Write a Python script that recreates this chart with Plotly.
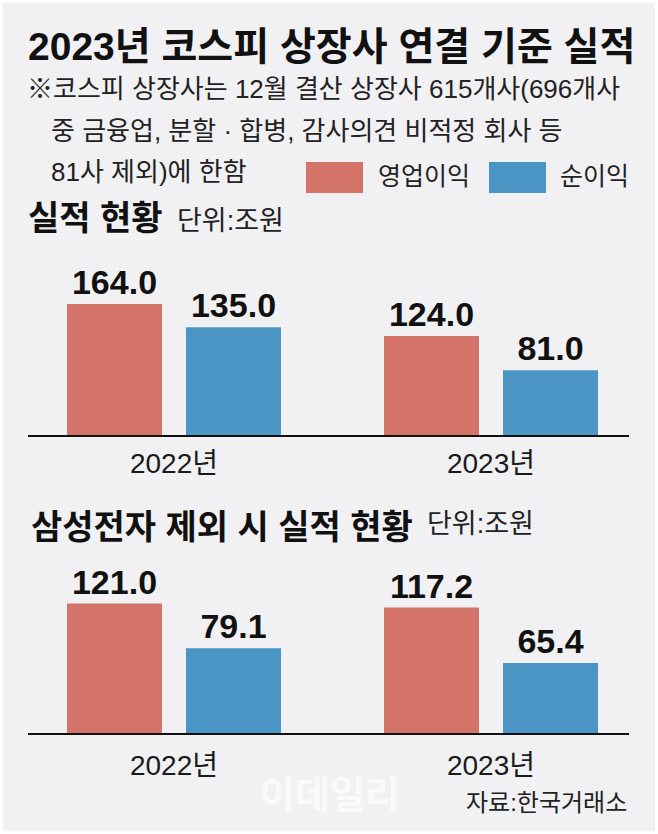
import plotly.graph_objects as go

# ---- data ----
years = ["2022년", "2023년"]
op_profit_all = [164.0, 124.0]      # 영업이익 (전체)
net_profit_all = [135.0, 81.0]      # 순이익 (전체)
op_profit_ex = [121.0, 117.2]       # 영업이익 (삼성전자 제외)
net_profit_ex = [79.1, 65.4]        # 순이익 (삼성전자 제외)
series_names = ["영업이익", "순이익"]

W, H = 658, 834
RED = "#d47468"
BLUE = "#4a95c4"
BG = "#f1f1f3"
NUM_FONT = "Liberation Sans, Arial, Noto Sans CJK KR"
KR_FONT = "Liberation Sans, Noto Sans CJK KR"


def px(x):
    return x / W


def py(y):
    return 1 - y / H


fig = go.Figure()

for vals, name, color in [(op_profit_all, series_names[0], RED), (net_profit_all, series_names[1], BLUE)]:
    fig.add_trace(go.Bar(
        x=years, y=vals, name=name, marker=dict(color=color, line=dict(width=0)),
        texttemplate="%{y:.1f}", textposition="outside", cliponaxis=False,
        textfont=dict(family=NUM_FONT, size=34, color="#111111", weight="bold"),
        xaxis="x", yaxis="y", showlegend=False, offsetgroup=name, hoverinfo="skip",
    ))
for vals, name, color in [(op_profit_ex, series_names[0], RED), (net_profit_ex, series_names[1], BLUE)]:
    fig.add_trace(go.Bar(
        x=years, y=vals, name=name, marker=dict(color=color, line=dict(width=0)),
        texttemplate="%{y:.1f}", textposition="outside", cliponaxis=False,
        textfont=dict(family=NUM_FONT, size=34, color="#111111", weight="bold"),
        xaxis="x2", yaxis="y2", showlegend=False, offsetgroup=name, hoverinfo="skip",
    ))

xdom = [px(28), px(629)]
xrange = [-0.4606, 1.4353]
xcommon = dict(
    type="category", range=xrange, domain=xdom, showline=True, linecolor="#111111",
    linewidth=2, showgrid=False, zeroline=False, ticks="",
    tickfont=dict(family=KR_FONT, size=28, color="#1a1a1a"), fixedrange=True,
)
ycommon = dict(showgrid=False, zeroline=False, showticklabels=False, showline=False, fixedrange=True)

fig.update_layout(
    width=W, height=H, margin=dict(l=0, r=0, t=0, b=0),
    paper_bgcolor="#ffffff", plot_bgcolor="rgba(0,0,0,0)",
    barmode="group", bargap=0.2492, bargroupgap=0.2017,
    showlegend=False,
    xaxis=dict(**xcommon, anchor="y", ticklabelstandoff=2),
    yaxis=dict(**ycommon, domain=[py(435), py(250)], range=[0, 185 / 0.799], anchor="x"),
    xaxis2=dict(**xcommon, anchor="y2", ticklabelstandoff=6),
    yaxis2=dict(**ycommon, domain=[py(733), py(560)], range=[0, 173 / 1.07], anchor="x2"),
)

shapes = [
    dict(type="rect", xref="paper", yref="paper", x0=px(3), x1=px(655), y0=py(831), y1=py(3),
         fillcolor=BG, line=dict(width=0), layer="below"),
    dict(type="rect", xref="paper", yref="paper", x0=px(306), x1=px(363), y0=py(193), y1=py(162),
         fillcolor=RED, line=dict(width=0)),
    dict(type="rect", xref="paper", yref="paper", x0=px(489), x1=px(546), y0=py(193), y1=py(162),
         fillcolor=BLUE, line=dict(width=0)),
]
fig.update_layout(shapes=shapes)


def ann(text, x, y, size, bold=False, color="#111111", xanchor="left", family=KR_FONT):
    fig.add_annotation(
        text=text, xref="paper", yref="paper", x=px(x), y=py(y), xanchor=xanchor, yanchor="middle",
        showarrow=False, font=dict(family=family, size=size, color=color, weight="bold" if bold else "normal"),
    )


ann("2023년 코스피 상장사 연결 기준 실적", 26, 47, 39, bold=True)
ann("※코스피 상장사는 12월 결산 상장사 615개사(696개사", 25, 89, 26, color="#222222")
ann("중 금융업, 분할 · 합병, 감사의견 비적정 회사 등", 49, 131, 26, color="#222222")
ann("81사 제외)에 한함", 49, 172, 26, color="#222222")
ann(series_names[0], 376, 176, 25, color="#222222")
ann(series_names[1], 558, 176, 25, color="#222222")
ann("실적 현황", 26, 218, 34, bold=True)
ann("단위:조원", 175, 221, 27, color="#222222")
ann("삼성전자 제외 시 실적 현황", 29, 527, 34, bold=True)
ann("단위:조원", 425, 524, 27, color="#222222")
ann("이데일리", 330, 795, 38, bold=True, color="rgba(255,255,255,0.7)", xanchor="center")
ann("자료:한국거래소", 629, 802, 24, color="#222222", xanchor="right")

fig.write_html("out.html", config={"displayModeBar": False},
               post_script="document.body.style.margin='0';")
